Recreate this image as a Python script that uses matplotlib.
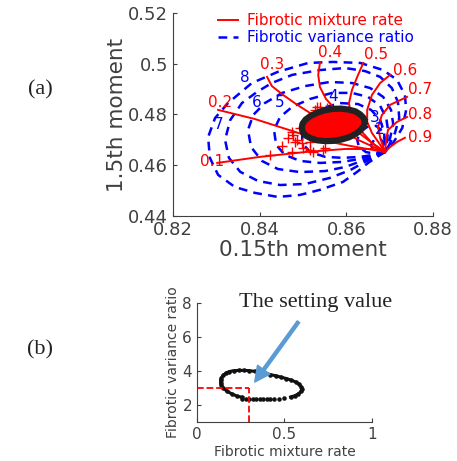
import numpy as np
import matplotlib
matplotlib.use("Agg")
import matplotlib.pyplot as plt

# ---- (a) data ----
conv = (0.8689, 0.4652)  # point where all curves meet

# fibrotic variance ratio curves (closed loops through conv)
var_labels = ["2", "3", "4", "5", "6", "7", "8"]
var_x = [
    [0.8689, 0.8675, 0.8661, 0.8657, 0.8664, 0.8678, 0.8687, 0.8689],
    [0.8689, 0.8669, 0.8645, 0.8629, 0.8625, 0.8632, 0.8648, 0.8669, 0.8682, 0.8689, 0.8689],
    [0.8689, 0.8664, 0.8632, 0.8592, 0.8551, 0.8516, 0.8498, 0.8498, 0.8516, 0.8546, 0.8585,
     0.8627, 0.8657, 0.8678, 0.8687, 0.8689, 0.8689],
    [0.8689, 0.8664, 0.8632, 0.8590, 0.8539, 0.8493, 0.8458, 0.8438, 0.8433, 0.8447, 0.8475,
     0.8516, 0.8567, 0.8613, 0.8650, 0.8678, 0.8692, 0.8696, 0.8694, 0.8689],
    [0.8689, 0.8666, 0.8636, 0.8597, 0.8551, 0.8493, 0.8442, 0.8405, 0.8380, 0.8373, 0.8385,
     0.8412, 0.8452, 0.8505, 0.8562, 0.8613, 0.8655, 0.8685, 0.8703, 0.8708, 0.8701, 0.8689],
    [0.8689, 0.8669, 0.8643, 0.8609, 0.8562, 0.8505, 0.8447, 0.8396, 0.8355, 0.8329, 0.8320,
     0.8332, 0.8359, 0.8394, 0.8428, 0.8475, 0.8539, 0.8597, 0.8643, 0.8678, 0.8705, 0.8719,
     0.8722, 0.8712, 0.8699, 0.8689],
    [0.8689, 0.8671, 0.8650, 0.8625, 0.8592, 0.8539, 0.8493, 0.8442, 0.8389, 0.8343, 0.8304,
     0.8285, 0.8281, 0.8297, 0.8327, 0.8382, 0.8442, 0.8512, 0.8569, 0.8632, 0.8685, 0.8717,
     0.8735, 0.8738, 0.8729, 0.8708, 0.8689],
]
var_y = [
    [0.4652, 0.4648, 0.4660, 0.4680, 0.4700, 0.4704, 0.4688, 0.4652],
    [0.4652, 0.4644, 0.4652, 0.4672, 0.4700, 0.4731, 0.4751, 0.4755, 0.4735, 0.4700, 0.4652],
    [0.4652, 0.4641, 0.4633, 0.4629, 0.4633, 0.4652, 0.4688, 0.4739, 0.4790, 0.4826, 0.4845,
     0.4841, 0.4818, 0.4778, 0.4731, 0.4688, 0.4652],
    [0.4652, 0.4641, 0.4625, 0.4613, 0.4609, 0.4617, 0.4641, 0.4680, 0.4739, 0.4790, 0.4830,
     0.4861, 0.4885, 0.4885, 0.4869, 0.4834, 0.4786, 0.4739, 0.4692, 0.4652],
    [0.4652, 0.4637, 0.4617, 0.4593, 0.4577, 0.4573, 0.4585, 0.4617, 0.4672, 0.4739, 0.4798,
     0.4845, 0.4885, 0.4912, 0.4928, 0.4924, 0.4904, 0.4869, 0.4818, 0.4763, 0.4708, 0.4652],
    [0.4652, 0.4637, 0.4613, 0.4581, 0.4550, 0.4526, 0.4522, 0.4538, 0.4574, 0.4629, 0.4700,
     0.4778, 0.4845, 0.4889, 0.4924, 0.4956, 0.4975, 0.4983, 0.4971, 0.4948, 0.4904, 0.4849,
     0.4786, 0.4727, 0.4680, 0.4652],
    [0.4652, 0.4633, 0.4609, 0.4574, 0.4534, 0.4503, 0.4483, 0.4475, 0.4491, 0.4514, 0.4562,
     0.4629, 0.4711, 0.4786, 0.4845, 0.4924, 0.4968, 0.5003, 0.5007, 0.5003, 0.4975, 0.4936,
     0.4877, 0.4818, 0.4747, 0.4688, 0.4652],
]
var_label_x = [0.8678, 0.8666, 0.8569, 0.8447, 0.8394, 0.8304, 0.8366]
var_label_y = [0.4739, 0.4790, 0.4869, 0.4849, 0.4849, 0.4759, 0.4944]

# fibrotic mixture rate curves (from the outer end to conv)
mix_labels = ["0.1", "0.2", "0.3", "0.4", "0.5", "0.6", "0.7", "0.8", "0.9"]
mix_x = [
    [0.8302, 0.8401, 0.8505, 0.8597, 0.8662, 0.8689],
    [0.8304, 0.8389, 0.8482, 0.8539, 0.8609, 0.8689],
    [0.8417, 0.8428, 0.8454, 0.8484, 0.8516, 0.8574, 0.8632, 0.8689],
    [0.8539, 0.8535, 0.8539, 0.8553, 0.8576, 0.8620, 0.8659, 0.8689],
    [0.8639, 0.8625, 0.8613, 0.8606, 0.8609, 0.8632, 0.8659, 0.8689],
    [0.8701, 0.8678, 0.8659, 0.8648, 0.8648, 0.8659, 0.8675, 0.8689],
    [0.8740, 0.8701, 0.8682, 0.8673, 0.8678, 0.8689],
    [0.8740, 0.8717, 0.8696, 0.8692, 0.8689],
    [0.8735, 0.8717, 0.8701, 0.8689],
]
mix_y = [
    [0.4609, 0.4633, 0.4652, 0.4664, 0.4664, 0.4652],
    [0.4818, 0.4782, 0.4731, 0.4700, 0.4676, 0.4652],
    [0.4948, 0.4912, 0.4877, 0.4841, 0.4806, 0.4747, 0.4696, 0.4652],
    [0.5003, 0.4956, 0.4908, 0.4861, 0.4818, 0.4739, 0.4688, 0.4652],
    [0.5003, 0.4948, 0.4897, 0.4845, 0.4810, 0.4739, 0.4688, 0.4652],
    [0.4956, 0.4924, 0.4877, 0.4818, 0.4771, 0.4727, 0.4688, 0.4652],
    [0.4869, 0.4838, 0.4798, 0.4751, 0.4708, 0.4652],
    [0.4790, 0.4771, 0.4739, 0.4700, 0.4652],
    [0.4708, 0.4692, 0.4672, 0.4652],
]
mix_label_x = [0.8290, 0.8308, 0.8428, 0.8562, 0.8669, 0.8735, 0.8770, 0.8770, 0.8770]
mix_label_y = [0.4613, 0.4849, 0.4995, 0.5046, 0.5035, 0.4975, 0.4897, 0.4798, 0.4711]

# measured samples: outline of the dense cloud and stray points
ell_x = [0.8642, 0.8640, 0.8632, 0.8621, 0.8606, 0.8588, 0.8569, 0.8551, 0.8533, 0.8518,
         0.8506, 0.8499, 0.8497, 0.8499, 0.8506, 0.8518, 0.8533, 0.8551, 0.8569, 0.8588,
         0.8606, 0.8621, 0.8632, 0.8640, 0.8642]
ell_y = [0.4771, 0.4786, 0.4800, 0.4812, 0.4819, 0.4823, 0.4822, 0.4817, 0.4807, 0.4795,
         0.4780, 0.4764, 0.4747, 0.4731, 0.4717, 0.4706, 0.4698, 0.4695, 0.4696, 0.4701,
         0.4710, 0.4723, 0.4737, 0.4754, 0.4771]
stray_x = [0.8475, 0.8482, 0.8452, 0.8475, 0.8498, 0.8516, 0.8424, 0.8486, 0.8477, 0.8516,
           0.8546, 0.8532, 0.8555, 0.8528, 0.8539, 0.8500, 0.8523, 0.8551, 0.8493, 0.8465]
stray_y = [0.4731, 0.4692, 0.4676, 0.4652, 0.4688, 0.4692, 0.4641, 0.4700, 0.4719, 0.4660,
           0.4660, 0.4830, 0.4826, 0.4818, 0.4830, 0.4668, 0.4652, 0.4668, 0.4747, 0.4708]

# ---- (b) data ----
loop_x = [0.26, 0.23, 0.20, 0.17, 0.15, 0.14, 0.135, 0.135, 0.14, 0.15, 0.165, 0.185, 0.21,
          0.24, 0.27, 0.30, 0.33, 0.36, 0.39, 0.42, 0.45, 0.48, 0.51, 0.54, 0.565, 0.585,
          0.595, 0.60, 0.595, 0.58, 0.56, 0.535]
loop_y = [2.45, 2.52, 2.65, 2.82, 3.0, 3.15, 3.3, 3.45, 3.6, 3.75, 3.88, 3.97, 4.02,
          4.04, 4.04, 4.02, 3.98, 3.92, 3.86, 3.79, 3.72, 3.64, 3.56, 3.46, 3.35, 3.22,
          3.08, 2.95, 2.8, 2.66, 2.55, 2.47]
bot_x = [0.26, 0.28, 0.30, 0.32, 0.34, 0.36, 0.38, 0.40, 0.42, 0.44, 0.47, 0.50]
bot_y = [2.33, 2.33, 2.33, 2.33, 2.33, 2.33, 2.33, 2.33, 2.33, 2.33, 2.35, 2.39]
set_mix = 0.3
set_var = 3.0

grey = "#404040"
fig = plt.figure(figsize=(4.57, 4.61), dpi=100)

ax = fig.add_axes([0.3786, 0.5315, 0.569, 0.4404])
for i, (xs, ys) in enumerate(zip(var_x, var_y)):
    ax.plot(xs, ys, color="blue", ls=(0, (3.5, 2.5)), lw=1.8,
            label="Fibrotic variance ratio" if i == 0 else None)
for i, (xs, ys) in enumerate(zip(mix_x, mix_y)):
    ax.plot(xs, ys, color="red", lw=1.4,
            label="Fibrotic mixture rate" if i == 0 else None)
ax.fill(ell_x, ell_y, color="red", zorder=3)
ax.plot(stray_x, stray_y, "+", color="red", ms=7, mew=1, zorder=3)
ax.plot(ell_x, ell_y, color="#222222", lw=4.5, zorder=4)
for t, x, y in zip(var_labels, var_label_x, var_label_y):
    ax.text(x, y, t, color="blue", fontsize=11, ha="center", va="center", zorder=5)
for t, x, y in zip(mix_labels, mix_label_x, mix_label_y):
    ax.text(x, y, t, color="red", fontsize=11, ha="center", va="center", zorder=5,
            clip_on=False)

ax.set_xlim(0.82, 0.88)
ax.set_ylim(0.44, 0.52)
ax.set_xticks([0.82, 0.84, 0.86, 0.88])
ax.set_yticks([0.44, 0.46, 0.48, 0.5, 0.52])
ax.set_yticklabels(["0.44", "0.46", "0.48", "0.5", "0.52"])
ax.set_xlabel("0.15th moment", fontsize=15.5, color=grey, labelpad=1)
ax.set_ylabel("1.5th moment", fontsize=15.5, color=grey, labelpad=1)
ax.tick_params(direction="in", labelsize=13, colors=grey, length=3)
for s in ["top", "right"]:
    ax.spines[s].set_visible(False)
for s in ["left", "bottom"]:
    ax.spines[s].set_color(grey)
h, l = ax.get_legend_handles_labels()
leg = ax.legend(h[::-1], l[::-1], loc="upper center", bbox_to_anchor=(0.55, 1.05),
                frameon=False, fontsize=11, handlelength=1.3, borderpad=0.2,
                labelspacing=0.1, handletextpad=0.6)
for txt, c in zip(leg.get_texts(), ["red", "blue"]):
    txt.set_color(c)

ax2 = fig.add_axes([0.431, 0.0846, 0.383, 0.258])
ax2.plot(loop_x, loop_y, color="#111111", lw=2.2, marker=".", ms=4.5)
ax2.plot(bot_x, bot_y, ".", color="#111111", ms=4.5)
ax2.plot([0, set_mix], [set_var, set_var], color="red", ls="--", lw=1.3)
ax2.plot([set_mix, set_mix], [1, set_var], color="red", ls="--", lw=1.3)
ax2.annotate("", xy=(0.33, 3.35), xytext=(0.58, 6.9),
             arrowprops=dict(facecolor="#5B9BD5", edgecolor="#5B9BD5",
                             width=2.2, headwidth=11, headlength=11),
             annotation_clip=False)
ax2.set_xlim(0, 1)
ax2.set_ylim(1, 8)
ax2.set_xticks([0, 0.5, 1])
ax2.set_xticklabels(["0", "0.5", "1"])
ax2.set_yticks([2, 4, 6, 8])
ax2.set_xlabel("Fibrotic mixture rate", fontsize=10, color=grey, labelpad=2)
ax2.set_ylabel("Fibrotic variance ratio", fontsize=10, color=grey, labelpad=2)
ax2.tick_params(direction="in", labelsize=11, colors=grey, length=3)
for s in ["top", "right"]:
    ax2.spines[s].set_visible(False)
for s in ["left", "bottom"]:
    ax2.spines[s].set_color(grey)

fig.text(0.69, 0.343, "The setting value", fontsize=16, family="Liberation Serif",
         ha="center", va="center", color="#222222")
fig.text(0.0875, 0.805, "(a)", fontsize=16, family="Liberation Serif",
         ha="center", va="center", color="#222222")
fig.text(0.0875, 0.241, "(b)", fontsize=16, family="Liberation Serif",
         ha="center", va="center", color="#222222")

fig.savefig("out.png", dpi=100)
